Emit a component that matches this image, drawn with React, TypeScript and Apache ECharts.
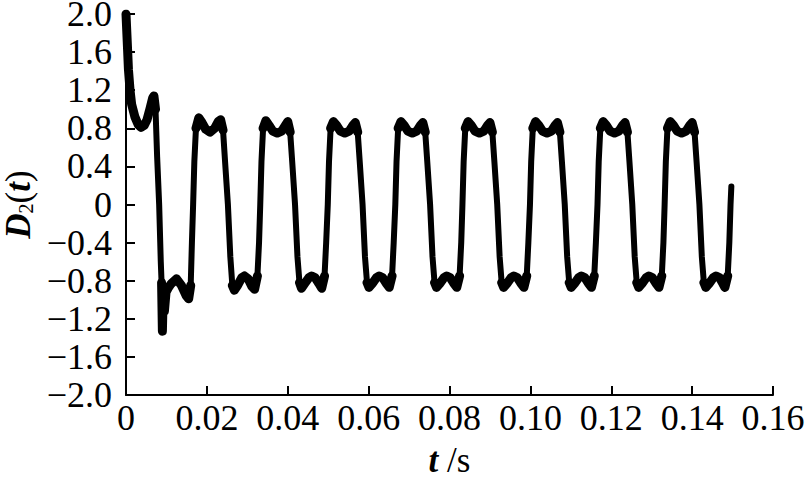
import React, { useEffect, useRef } from "react";
import * as echarts from "echarts";

// time (s)
const timeS: number[] = [
  0.0000, 0.0004, 0.0006, 0.0010, 0.0014, 0.0022, 0.0030, 0.0037, 0.0045, 0.0052,
  0.0059, 0.0066, 0.0069, 0.0073, 0.0077, 0.0082, 0.0086, 0.0088, 0.0090, 0.0092,
  0.0095, 0.0099, 0.0104, 0.0112, 0.0125, 0.0137, 0.0149, 0.0155, 0.0160, 0.0163,
  0.0166, 0.0169, 0.0173, 0.0180, 0.0188, 0.0197, 0.0208, 0.0219, 0.0228, 0.0234,
  0.0240, 0.0245, 0.0252, 0.0258, 0.0263, 0.0268, 0.0276, 0.0286, 0.0293, 0.0302,
  0.0311, 0.0318, 0.0325, 0.0329,
  0.0332, 0.0335, 0.0339, 0.0346, 0.0354, 0.0363, 0.0374, 0.0385, 0.0394, 0.0400,
  0.0406, 0.0411, 0.0418, 0.0424, 0.0429, 0.0434, 0.0442, 0.0452, 0.0459, 0.0468,
  0.0477, 0.0484, 0.0491, 0.0495,
  0.0499, 0.0502, 0.0506, 0.0513, 0.0521, 0.0530, 0.0541, 0.0552, 0.0561, 0.0567,
  0.0573, 0.0578, 0.0585, 0.0591, 0.0596, 0.0601, 0.0609, 0.0619, 0.0626, 0.0635,
  0.0644, 0.0651, 0.0658, 0.0662,
  0.0666, 0.0669, 0.0673, 0.0680, 0.0688, 0.0697, 0.0708, 0.0719, 0.0728, 0.0734,
  0.0740, 0.0745, 0.0752, 0.0758, 0.0763, 0.0768, 0.0776, 0.0786, 0.0793, 0.0802,
  0.0811, 0.0818, 0.0825, 0.0829,
  0.0832, 0.0835, 0.0839, 0.0846, 0.0854, 0.0863, 0.0874, 0.0885, 0.0894, 0.0900,
  0.0906, 0.0911, 0.0918, 0.0924, 0.0929, 0.0934, 0.0942, 0.0952, 0.0959, 0.0968,
  0.0977, 0.0984, 0.0991, 0.0995,
  0.0999, 0.1002, 0.1006, 0.1013, 0.1021, 0.1030, 0.1041, 0.1052, 0.1061, 0.1067,
  0.1073, 0.1078, 0.1085, 0.1091, 0.1096, 0.1101, 0.1109, 0.1119, 0.1126, 0.1135,
  0.1144, 0.1151, 0.1158, 0.1162,
  0.1166, 0.1169, 0.1173, 0.1180, 0.1188, 0.1197, 0.1208, 0.1219, 0.1228, 0.1234,
  0.1240, 0.1245, 0.1252, 0.1258, 0.1263, 0.1268, 0.1276, 0.1286, 0.1293, 0.1302,
  0.1311, 0.1318, 0.1325, 0.1329,
  0.1332, 0.1335, 0.1339, 0.1346, 0.1354, 0.1363, 0.1374, 0.1385, 0.1394, 0.1400,
  0.1406, 0.1411, 0.1418, 0.1424, 0.1429, 0.1434, 0.1442, 0.1452, 0.1459, 0.1468,
  0.1476, 0.1481, 0.1488, 0.1492, 0.1495, 0.1497,
];

// D2(t)
const d2Values: number[] = [
  2.00, 1.62, 1.42, 1.20, 1.05, 0.92, 0.84, 0.81, 0.83, 0.89,
  1.00, 1.12, 1.14, 1.00, 0.50, 0.00, -0.60, -0.82, -1.33, -0.95,
  -1.12, -0.92, -0.88, -0.83, -0.78, -0.85, -0.96, -0.99, -0.85, -0.40,
  0.00, 0.45, 0.80, 0.91, 0.86, 0.79, 0.76, 0.80, 0.87, 0.89,
  0.78, 0.45, 0.00, -0.55, -0.85, -0.90, -0.85, -0.77, -0.75, -0.78,
  -0.86, -0.89, -0.75, -0.40,
  0.00, 0.45, 0.80, 0.88, 0.83, 0.77, 0.75, 0.77, 0.83, 0.87,
  0.76, 0.45, 0.00, -0.55, -0.82, -0.88, -0.83, -0.77, -0.75, -0.77,
  -0.83, -0.88, -0.75, -0.40,
  0.00, 0.45, 0.80, 0.87, 0.83, 0.77, 0.75, 0.77, 0.83, 0.86,
  0.76, 0.45, 0.00, -0.55, -0.82, -0.87, -0.83, -0.77, -0.75, -0.77,
  -0.83, -0.87, -0.75, -0.40,
  0.00, 0.45, 0.80, 0.87, 0.83, 0.77, 0.75, 0.77, 0.83, 0.86,
  0.76, 0.45, 0.00, -0.55, -0.82, -0.87, -0.83, -0.77, -0.75, -0.77,
  -0.83, -0.87, -0.75, -0.40,
  0.00, 0.45, 0.80, 0.87, 0.83, 0.77, 0.75, 0.77, 0.83, 0.86,
  0.76, 0.45, 0.00, -0.55, -0.82, -0.87, -0.83, -0.77, -0.75, -0.77,
  -0.83, -0.87, -0.75, -0.40,
  0.00, 0.45, 0.80, 0.87, 0.83, 0.77, 0.75, 0.77, 0.83, 0.86,
  0.76, 0.45, 0.00, -0.55, -0.82, -0.87, -0.83, -0.77, -0.75, -0.77,
  -0.83, -0.87, -0.75, -0.40,
  0.00, 0.45, 0.80, 0.87, 0.83, 0.77, 0.75, 0.77, 0.83, 0.86,
  0.76, 0.45, 0.00, -0.55, -0.82, -0.87, -0.83, -0.77, -0.75, -0.77,
  -0.83, -0.87, -0.75, -0.40,
  0.00, 0.45, 0.80, 0.87, 0.83, 0.77, 0.75, 0.77, 0.83, 0.86,
  0.76, 0.45, 0.00, -0.55, -0.82, -0.87, -0.83, -0.77, -0.75, -0.77,
  -0.83, -0.87, -0.75, -0.40, 0.00, 0.19,
];

// |D2| level above which the signal carries its visible high-frequency ripple band
const rippleLevel = 0.7;

const xTicks = { min: 0, max: 0.16, interval: 0.02 };
const yTicks = { min: -2, max: 2, interval: 0.4 };

const FONT = "'Liberation Serif', 'Times New Roman', serif";

export default function App() {
  const ref = useRef<HTMLDivElement>(null);
  useEffect(() => {
    if (!ref.current) return;
    const chart = echarts.init(ref.current, undefined, { renderer: "svg" });
    const data = timeS.map((t, i) => [t, d2Values[i]]);
    const plateau = timeS.map((t, i) =>
      Math.abs(d2Values[i]) >= rippleLevel ? [t, d2Values[i]] : [t, null]
    );
    chart.setOption({
      animation: false,
      backgroundColor: "#ffffff",
      grid: {
        left: 126,
        right: 35,
        top: 14,
        bottom: 88,
        containLabel: false,
        outerBoundsMode: "none",
      },
      xAxis: {
        type: "value",
        min: xTicks.min,
        max: xTicks.max,
        interval: xTicks.interval,
        name: "{a|t}{b| /s}",
        nameLocation: "middle",
        nameGap: 48,
        nameTextStyle: {
          fontFamily: FONT,
          fontSize: 35,
          color: "#000",
          rich: {
            a: { fontFamily: FONT, fontSize: 35, fontStyle: "italic", fontWeight: "bold", color: "#000" },
            b: { fontFamily: FONT, fontSize: 35, color: "#000" },
          },
        },
        axisLine: { show: true, onZero: false, lineStyle: { color: "#000", width: 2 } },
        axisTick: { show: true, inside: true, length: 9, lineStyle: { color: "#000", width: 2 } },
        axisLabel: {
          fontFamily: FONT,
          fontSize: 36,
          color: "#000",
          margin: 5,
          formatter: (v: number) => (Math.abs(v) < 1e-9 ? "0" : v.toFixed(2)),
        },
        splitLine: { show: false },
      },
      yAxis: {
        type: "value",
        min: yTicks.min,
        max: yTicks.max,
        interval: yTicks.interval,
        name: "{a|D}{s|2}{c|(}{a|t}{c|)}",
        nameLocation: "middle",
        nameRotate: 90,
        nameGap: 88,
        nameTextStyle: {
          fontFamily: FONT,
          fontSize: 35,
          color: "#000",
          rich: {
            a: { fontFamily: FONT, fontSize: 35, fontStyle: "italic", fontWeight: "bold", color: "#000", verticalAlign: "top" },
            s: { fontFamily: FONT, fontSize: 20, color: "#000", verticalAlign: "top", padding: [15, 0, 0, 0] },
            c: { fontFamily: FONT, fontSize: 35, color: "#000", verticalAlign: "top" },
          },
        },
        axisLine: { show: true, onZero: false, lineStyle: { color: "#000", width: 2 } },
        axisTick: { show: true, inside: true, length: 9, lineStyle: { color: "#000", width: 2 } },
        axisLabel: {
          fontFamily: FONT,
          fontSize: 36,
          lineHeight: 24,
          color: "#000",
          margin: 14,
          formatter: (v: number) => {
            if (Math.abs(v) < 1e-9) return "0";
            return (v < 0 ? "\u2212" : "") + Math.abs(v).toFixed(1);
          },
        },
        splitLine: { show: false },
      },
      series: [
        {
          type: "line",
          data,
          showSymbol: false,
          symbol: "none",
          smooth: false,
          lineStyle: { color: "#000", width: 6, join: "round", cap: "round" },
        },
        {
          type: "line",
          data: plateau,
          connectNulls: false,
          showSymbol: false,
          symbol: "none",
          smooth: false,
          lineStyle: { color: "#000", width: 9, join: "round", cap: "round" },
        },
      ],
    });
    return () => chart.dispose();
  }, []);
  return (
    <div
      ref={ref}
      style={{ position: "fixed", left: 0, top: 0, width: 808, height: 483 }}
    />
  );
}
